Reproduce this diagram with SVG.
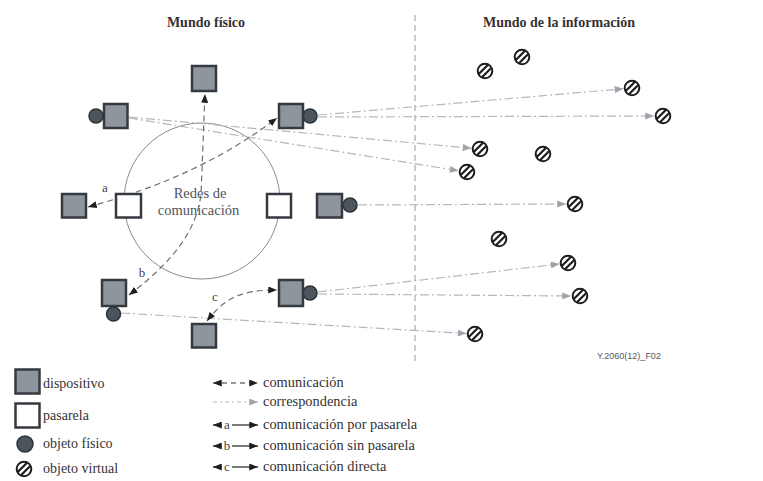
<svg xmlns="http://www.w3.org/2000/svg" xmlns:xlink="http://www.w3.org/1999/xlink" width="763" height="481" viewBox="0 0 763 481">
  <style>
    .serif { font-family: 'Liberation Serif', 'DejaVu Serif', serif; }
    .title { font-weight: bold; font-size: 14px; fill: #333; text-anchor: middle; }
    .lbl { font-size: 14px; fill: #333; }
    .lbl2 { font-size: 14.4px; fill: #333; }
    .net { font-size: 14.5px; fill: #505458; text-anchor: middle; }
    .tag { font-size: 13px; fill: #444; text-anchor: middle; }
    .ref { font-family: 'Liberation Sans', Arial, sans-serif; font-size: 9px; fill: #555; }
    .dev { fill: #8e959c; stroke: #343a40; stroke-width: 2.5; }
    .gw { fill: #fff; stroke: #343a40; stroke-width: 2.5; }
    .phy { fill: #4a555e; stroke: #2c3338; stroke-width: 1.5; }
    .corr { fill: none; stroke: #b4b8bd; stroke-width: 1.2; stroke-dasharray: 9 3 2 3; marker-end: url(#ahGray); }
    .comm { fill: none; stroke: #707070; stroke-width: 1.2; stroke-dasharray: 6 4; marker-start: url(#ahDark); marker-end: url(#ahDark); }
    .solid { fill: none; stroke: #222; stroke-width: 1.2; }
  </style>
  <defs>
    <marker id="ahDark" viewBox="0 0 10 8" refX="10" refY="4" markerWidth="9" markerHeight="7" markerUnits="userSpaceOnUse" orient="auto-start-reverse">
      <path d="M0,0 L10,4 L0,8 z" fill="#1f1f1f"/>
    </marker>
    <marker id="ahGray" viewBox="0 0 10 8" refX="10" refY="4" markerWidth="9" markerHeight="7" markerUnits="userSpaceOnUse" orient="auto">
      <path d="M0,0 L10,4 L0,8 z" fill="#9ea4ab"/>
    </marker>
    <clipPath id="voClip"><circle r="6.6"/></clipPath>
    <!-- virtual object: ring with diagonal hatching -->
    <g id="vo">
      <circle r="7.3" fill="#fff" stroke="#1c1c1c" stroke-width="2"/>
      <g clip-path="url(#voClip)" stroke="#1c1c1c" stroke-width="2.2">
        <line x1="-6.4" y1="9.6" x2="9.6" y2="-6.4"/>
        <line x1="-9.6" y1="6.4" x2="6.4" y2="-9.6"/>
      </g>
    </g>
  </defs>

  <rect width="763" height="481" fill="#fff"/>

  <!-- headings and divider -->
  <text class="serif title" font-family="Liberation Serif, DejaVu Serif, serif" x="206" y="27">Mundo físico</text>
  <text class="serif title" font-family="Liberation Serif, DejaVu Serif, serif" x="559" y="27">Mundo de la información</text>
  <line x1="415" y1="15" x2="415" y2="362" stroke="#aaa" stroke-width="1.2" stroke-dasharray="6 4"/>

  <!-- communication network -->
  <g id="network">
    <circle cx="202" cy="201" r="78" fill="none" stroke="#8a8a8a" stroke-width="1"/>
  </g>

  <g id="connectors">
    <!-- correspondence: physical object to virtual object -->
    <path class="corr" d="M318,115 L623.5,88.8"/>
    <path class="corr" d="M318,117 L654,116"/>
    <path class="corr" d="M129,117 L471.5,148.2"/>
    <path class="corr" d="M129,118 L458.6,170.7"/>
    <path class="corr" d="M358,205 L566,204"/>
    <path class="corr" d="M318,292 L559.5,264"/>
    <path class="corr" d="M318,294 L571,296"/>
    <path class="corr" d="M121,313 L466.5,333.5"/>
    <!-- communication -->
    <path class="comm" d="M88,207 C150,190 215,165 277,118"/>
    <path class="comm" d="M129,295 C175,260 196,230 201,195 L205,94"/>
    <path class="comm" d="M207,321 C225,298 240,290 277,290"/>
  </g>

  <g class="serif" font-family="Liberation Serif, DejaVu Serif, serif">
    <text class="net" x="200" y="198">Redes de</text>
    <text class="net" x="198.5" y="215">comunicación</text>
    <text class="tag" x="105" y="192">a</text>
    <text class="tag" x="142" y="277">b</text>
    <text class="tag" x="215" y="301">c</text>
  </g>

  <!-- physical world nodes -->
  <g id="dev-top"><rect class="dev" x="192" y="66" width="24" height="25"/></g>
  <g id="dev-upper-left">
    <circle class="phy" cx="96" cy="116" r="7"/>
    <rect class="dev" x="104" y="104" width="23.5" height="24"/>
  </g>
  <g id="dev-upper-right">
    <circle class="phy" cx="310" cy="116" r="7"/>
    <rect class="dev" x="279" y="104" width="24" height="24"/>
  </g>
  <g id="dev-left"><rect class="dev" x="62" y="194" width="24" height="23.5"/></g>
  <g id="gw-left"><rect class="gw" x="116" y="194" width="25" height="23.5"/></g>
  <g id="gw-right"><rect class="gw" x="267" y="194" width="24" height="23.5"/></g>
  <g id="dev-right">
    <circle class="phy" cx="350" cy="205" r="7"/>
    <rect class="dev" x="317" y="194" width="25" height="23.5"/>
  </g>
  <g id="dev-lower-left">
    <circle class="phy" cx="113.5" cy="314" r="7"/>
    <rect class="dev" x="102" y="280" width="24" height="26"/>
  </g>
  <g id="dev-bottom"><rect class="dev" x="192" y="324" width="24" height="23.5"/></g>
  <g id="dev-lower-right">
    <circle class="phy" cx="310" cy="293" r="7"/>
    <rect class="dev" x="279" y="280" width="24" height="26"/>
  </g>

  <!-- information world nodes -->
  <g id="vo-1"><use xlink:href="#vo" x="485" y="71"/></g>
  <g id="vo-2"><use xlink:href="#vo" x="522" y="57"/></g>
  <g id="vo-3"><use xlink:href="#vo" x="632" y="88"/></g>
  <g id="vo-4"><use xlink:href="#vo" x="663" y="116"/></g>
  <g id="vo-5"><use xlink:href="#vo" x="480" y="149"/></g>
  <g id="vo-6"><use xlink:href="#vo" x="543" y="154"/></g>
  <g id="vo-7"><use xlink:href="#vo" x="467" y="172"/></g>
  <g id="vo-8"><use xlink:href="#vo" x="575" y="204"/></g>
  <g id="vo-9"><use xlink:href="#vo" x="499" y="239"/></g>
  <g id="vo-10"><use xlink:href="#vo" x="568" y="263"/></g>
  <g id="vo-11"><use xlink:href="#vo" x="580" y="296"/></g>
  <g id="vo-12"><use xlink:href="#vo" x="475" y="334"/></g>

  <text class="ref" x="597" y="359">Y.2060(12)_F02</text>

  <!-- legend: symbols -->
  <g id="legend-symbols">
    <rect class="dev" x="15.5" y="369.5" width="24" height="24" stroke-width="3"/>
    <rect class="gw" x="15.5" y="403.5" width="24" height="24" stroke-width="3"/>
    <circle class="phy" cx="25" cy="444" r="8"/>
    <use xlink:href="#vo" x="24" y="469"/>
    <g class="serif" font-family="Liberation Serif, DejaVu Serif, serif">
      <text class="lbl" x="43" y="388">dispositivo</text>
      <text class="lbl" x="43" y="420">pasarela</text>
      <text class="lbl" x="43" y="448">objeto físico</text>
      <text class="lbl" x="43" y="473">objeto virtual</text>
    </g>
  </g>

  <!-- legend: connector kinds -->
  <g id="legend-lines">
    <line x1="213" y1="383" x2="258" y2="383" stroke="#333" stroke-width="1.2" stroke-dasharray="5 4" marker-start="url(#ahDark)" marker-end="url(#ahDark)"/>
    <line x1="213" y1="402" x2="258" y2="402" stroke="#b4b8bd" stroke-width="1.2" stroke-dasharray="4 3 2 3" marker-end="url(#ahGray)"/>
    <line class="solid" x1="213" y1="425" x2="222" y2="425" marker-start="url(#ahDark)"/>
    <line class="solid" x1="232" y1="425" x2="258" y2="425" marker-end="url(#ahDark)"/>
    <line class="solid" x1="213" y1="446" x2="222" y2="446" marker-start="url(#ahDark)"/>
    <line class="solid" x1="232" y1="446" x2="258" y2="446" marker-end="url(#ahDark)"/>
    <line class="solid" x1="213" y1="467" x2="222" y2="467" marker-start="url(#ahDark)"/>
    <line class="solid" x1="232" y1="467" x2="258" y2="467" marker-end="url(#ahDark)"/>
    <g class="serif" font-family="Liberation Serif, DejaVu Serif, serif">
      <text class="lbl2" x="263" y="387">comunicación</text>
      <text class="lbl2" x="263" y="406">correspondencia</text>
      <text class="tag" x="227" y="429">a</text>
      <text class="lbl2" x="263" y="429">comunicación por pasarela</text>
      <text class="tag" x="227" y="450">b</text>
      <text class="lbl2" x="263" y="450">comunicación sin pasarela</text>
      <text class="tag" x="227" y="471">c</text>
      <text class="lbl2" x="263" y="471">comunicación directa</text>
    </g>
  </g>
</svg>
